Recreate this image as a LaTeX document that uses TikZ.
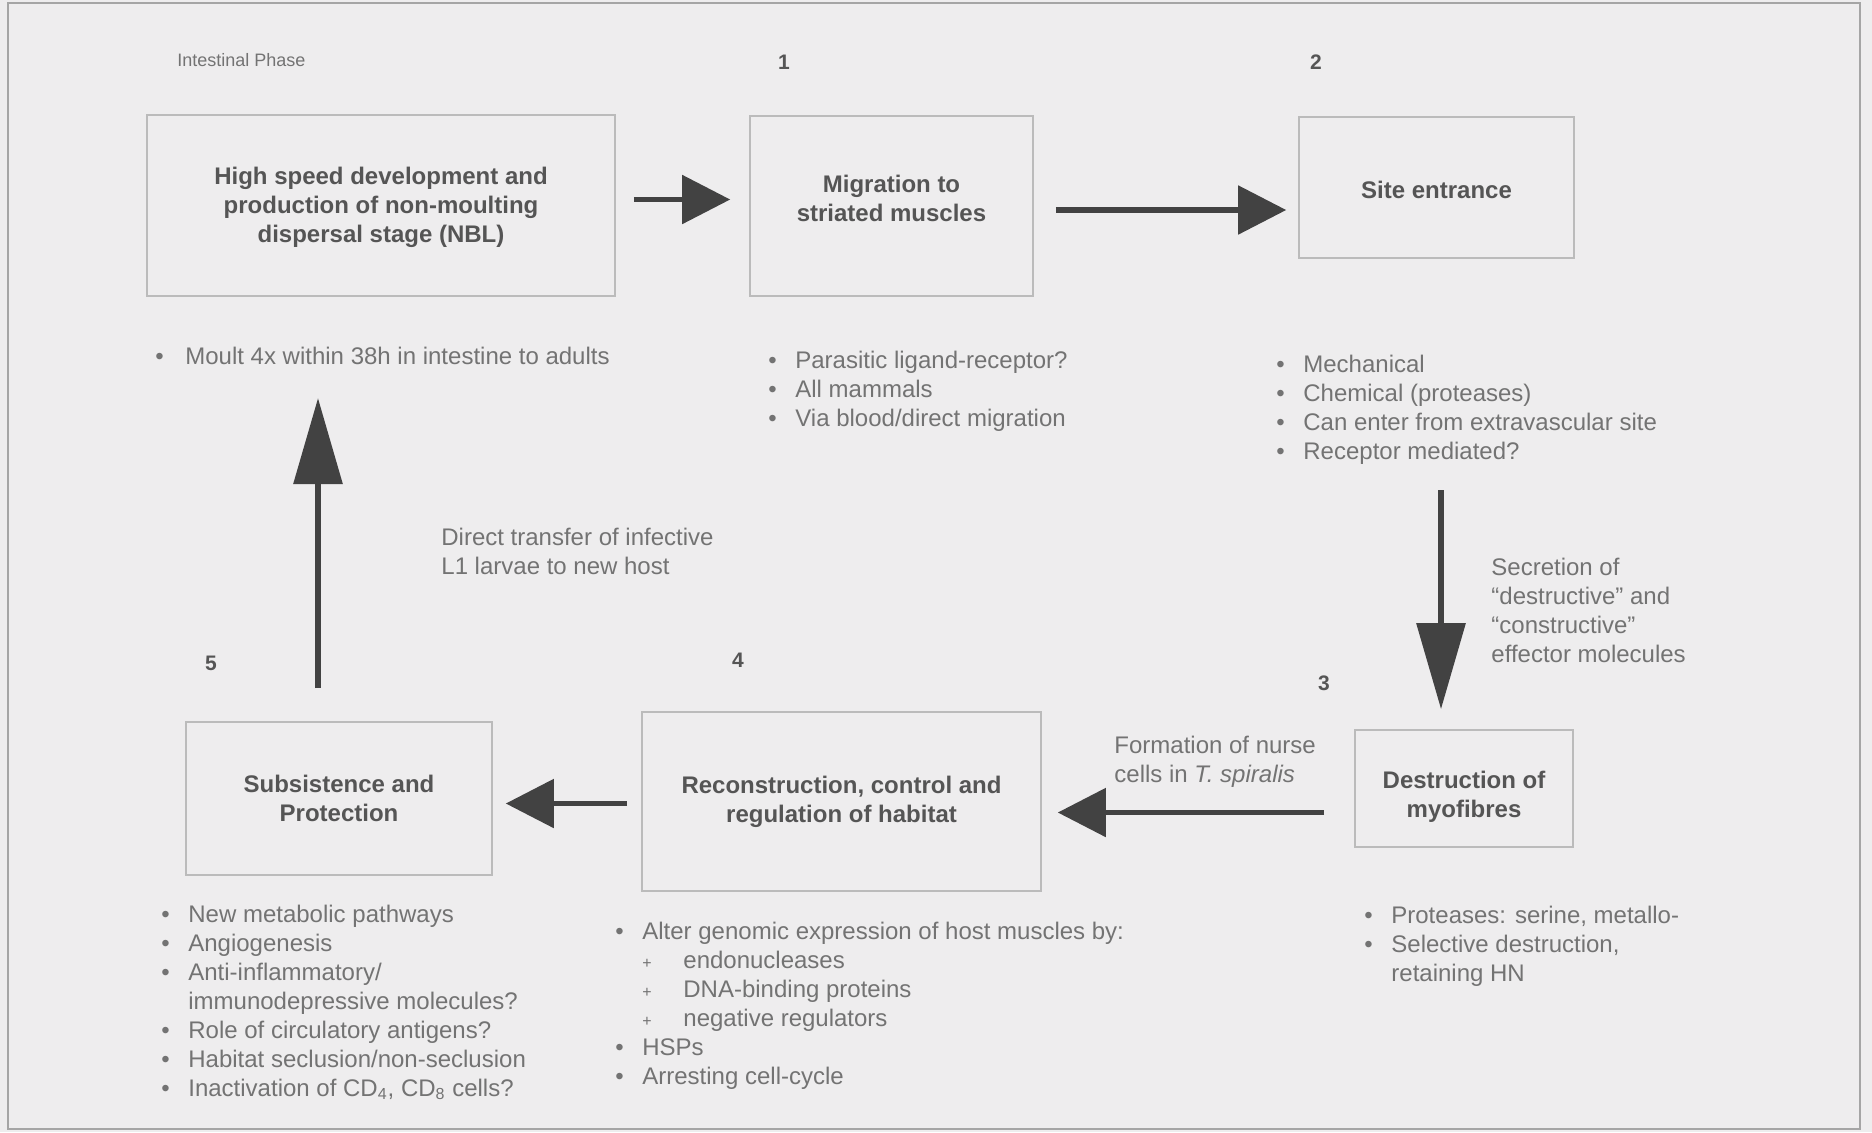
\documentclass[tikz,border=0pt]{standalone}
\usepackage{fontspec}
\setmainfont{Liberation Sans}
\usetikzlibrary{arrows.meta, positioning}

\definecolor{paper}{HTML}{EEEDEE}
\definecolor{frameline}{HTML}{A5A5A5}
\definecolor{boxline}{HTML}{BBBBBB}
\definecolor{boxtext}{HTML}{555555}
\definecolor{listtext}{HTML}{737373}
\definecolor{arrowcol}{HTML}{424242}

\newcommand{\bul}{\makebox[13.5pt][l]{\textbullet}}
\newcommand{\cont}{\makebox[13.5pt][l]{}}
\newcommand{\subbul}{\makebox[20.5pt][l]{\footnotesize +}}
% box text, raised or lowered a little inside its box
\newcommand{\lifted}[2]{\raisebox{#1}[\height][\depth]{\begin{tabular}{@{}c@{}}#2\end{tabular}}}

\begin{document}
\begin{tikzpicture}[x=0.5pt, y=-0.5pt,
  stage/.style={draw=boxline, line width=0.8pt, text=boxtext, align=center,
    font=\bfseries\fontsize{12}{14.5}\selectfont, inner sep=0pt},
  notes/.style={anchor=base west, inner sep=0pt, text=listtext,
    font=\fontsize{12}{14.5}\selectfont},
  num/.style={inner sep=0pt, text=boxtext, font=\bfseries\fontsize{10.5}{12}\selectfont},
  flow/.style={draw=arrowcol, line width=2.6pt, -{Triangle[length=24pt, width=24pt]}},
  flowv/.style={draw=arrowcol, line width=3pt, -{Triangle[length=43pt, width=24pt]}}]

  \useasboundingbox (0,0) rectangle (1872,1132);
  \fill[paper] (0,0) rectangle (1872,1132);
  \draw[frameline, line width=0.8pt] (8,3) rectangle (1860,1129);

  \node[anchor=west, inner sep=0pt, text=listtext, font=\fontsize{9}{11}\selectfont] (phase) at (177,60) {Intestinal Phase};

  % stages
  \node[stage, minimum width=234pt, minimum height=90.5pt] (dev) at (381,205.5)
    {\lifted{-1.2pt}{High speed development and\\production of non-moulting\\dispersal stage (NBL)}};
  \node[stage, minimum width=141.5pt, minimum height=90pt] (mig) at (891.5,206)
    {\lifted{2.4pt}{Migration to\\striated muscles}};
  \node[stage, minimum width=137.5pt, minimum height=70.5pt] (site) at (1436.5,187.5)
    {\lifted{-2.4pt}{Site entrance}};
  \node[stage, minimum width=109pt, minimum height=58.5pt] (dest) at (1464,788.5)
    {\lifted{-4.2pt}{Destruction of\\myofibres}};
  \node[stage, minimum width=199.5pt, minimum height=89.5pt] (recon) at (841.5,801.5)
    {Reconstruction, control and\\regulation of habitat};
  \node[stage, minimum width=153pt, minimum height=76.5pt] (subs) at (339,798.5)
    {Subsistence and\\Protection};

  % numbers
  \node[num] (n1) at (784,62) {1};
  \node[num] (n2) at (1316,62) {2};
  \node[num] (n3) at (1324,683) {3};
  \node[num] (n4) at (738,660) {4};
  \node[num] (n5) at (211,663) {5};

  % notes
  \node[notes] (listA) at (155,364) {\begin{tabular}[t]{@{}l@{}}
    \makebox[15pt][l]{\textbullet}Moult 4x within 38h in intestine to adults
  \end{tabular}};
  \node[notes] (listB) at (768,368) {\begin{tabular}[t]{@{}l@{}}
    \bul Parasitic ligand-receptor?\\
    \bul All mammals\\
    \bul Via blood/direct migration
  \end{tabular}};
  \node[notes] (listC) at (1276,372) {\begin{tabular}[t]{@{}l@{}}
    \bul Mechanical\\
    \bul Chemical (proteases)\\
    \bul Can enter from extravascular site\\
    \bul Receptor mediated?
  \end{tabular}};
  \node[notes] (listD) at (1364,923) {\begin{tabular}[t]{@{}l@{}}
    \bul Proteases: serine, metallo-\\
    \bul Selective destruction,\\
    \cont retaining HN
  \end{tabular}};
  \node[notes] (listE) at (615,939) {\begin{tabular}[t]{@{}l@{}}
    \bul Alter genomic expression of host muscles by:\\
    \cont\subbul endonucleases\\
    \cont\subbul DNA-binding proteins\\
    \cont\subbul negative regulators\\
    \bul HSPs\\
    \bul Arresting cell-cycle
  \end{tabular}};
  \node[notes] (listF) at (161,922) {\begin{tabular}[t]{@{}l@{}}
    \bul New metabolic pathways\\
    \bul Angiogenesis\\
    \bul Anti-inflammatory/\\
    \cont immunodepressive molecules?\\
    \bul Role of circulatory antigens?\\
    \bul Habitat seclusion/non-seclusion\\
    \bul Inactivation of CD\textsubscript{4}, CD\textsubscript{8} cells?
  \end{tabular}};

  % arrow labels
  \node[notes] (secr) at (1491,575) {\begin{tabular}[t]{@{}l@{}}
    Secretion of\\``destructive'' and\\``constructive''\\effector molecules
  \end{tabular}};
  \node[notes] (nurse) at (1114,753) {\begin{tabular}[t]{@{}l@{}}
    Formation of nurse\\cells in \textit{T. spiralis}
  \end{tabular}};
  \node[notes] (host) at (441,545) {\begin{tabular}[t]{@{}l@{}}
    Direct transfer of infective\\L1 larvae to new host
  \end{tabular}};

  % cycle
  \coordinate (drop) at (1441,490);
  \coordinate (rise) at (318,398);
  \draw[flow, shorten <=9pt, shorten >=9.5pt] ([yshift=3pt]dev.east) -- ([yshift=3pt]dev.east -| mig.west);
  \draw[flow, shorten <=11pt, shorten >=6pt] ([yshift=-2pt]mig.east) -- ([yshift=-2pt]mig.east -| site.west);
  \draw[flowv, shorten >=10pt] (drop) -- (drop |- dest.north);
  \draw[flow, shorten <=15pt, shorten >=8pt] ([yshift=-12pt]dest.west) -- ([yshift=-12pt]dest.west -| recon.east);
  \draw[flow, shorten <=7pt, shorten >=6.5pt] ([yshift=-1pt]recon.west) -- ([yshift=-1pt]recon.west -| subs.east);
  \draw[flowv, shorten <=16.5pt] (rise |- subs.north) -- (rise);
\end{tikzpicture}
\end{document}
